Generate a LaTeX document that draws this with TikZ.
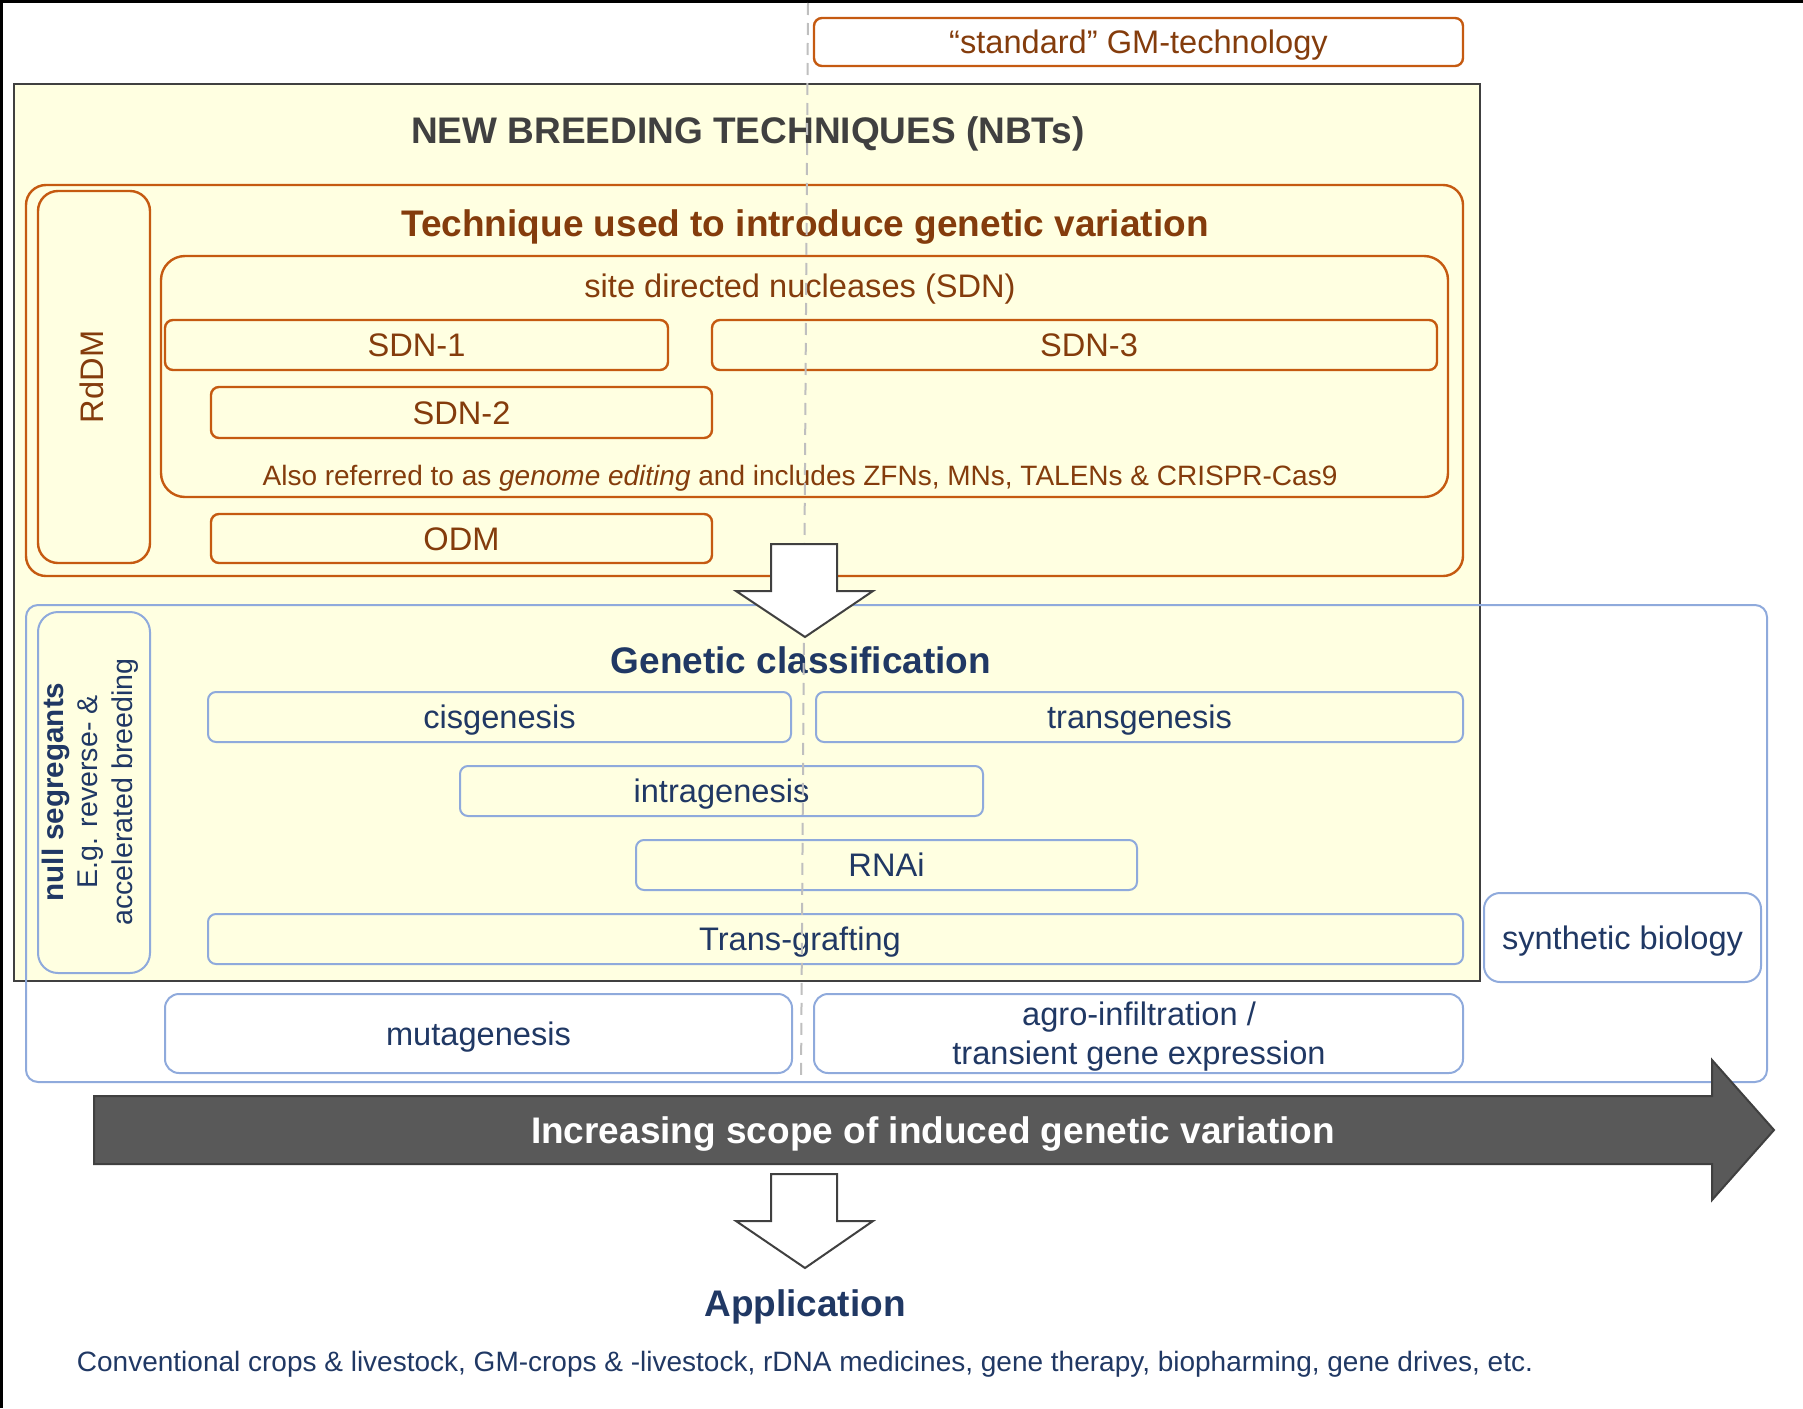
\documentclass[tikz,border=0pt]{standalone}
\usepackage{fontspec}
\setmainfont{Liberation Sans}
\definecolor{orng}{HTML}{C55A11}
\definecolor{brwn}{HTML}{843C0C}
\definecolor{blu}{HTML}{8FAADC}
\definecolor{navy}{HTML}{203864}
\definecolor{ylw}{HTML}{FFFFE1}
\definecolor{dgray}{HTML}{404040}
\definecolor{agray}{HTML}{595959}
\definecolor{lgray}{HTML}{BFBFBF}
\newcommand\fnorm{\fontsize{16.3}{19.5}\selectfont}
\newcommand\fsmall{\fontsize{14}{17}\selectfont}
\newcommand\fhead{\bfseries\fontsize{18.5}{22}\selectfont}
\tikzset{
  fixedline/.style={text height=13pt, text depth=1.3pt},
  obox/.style={draw=orng, line width=1.2pt, rounded corners=4pt, text=brwn, font=\fnorm, fixedline},
  bbox/.style={draw=blu, line width=1pt, rounded corners=4pt, text=navy, font=\fnorm, fixedline},
  headtext/.style={font=\fhead, inner sep=0pt},
  blockarrow/.style={draw=dgray, line width=1pt, line join=miter}
}
\newcommand\bx[7]{\node[#6, minimum width={(#4-#2)*0.5pt}, minimum height={(#5-#3)*0.5pt}, inner sep=0pt, outer sep=0pt] (#1) at ({(#2+#4)/2},{(#3+#5)/2}) {#7};}
\begin{document}
\begin{tikzpicture}[x=0.5pt,y=-0.5pt]
\useasboundingbox (0,0) rectangle (1803,1408);
% frame (top and left)
\draw[line width=1.5pt] (1.5,1408) -- (1.5,1.5) -- (1803,1.5);
% NBT area
\bx{nbt}{14}{84}{1480}{981}{draw=dgray, fill=ylw, line width=1pt}{}
\node[headtext, text=dgray] (title) at (748,134) {NEW BREEDING TECHNIQUES (NBTs)};
\bx{gm}{814}{18}{1463}{66}{obox}{“standard” GM-technology}
% technique
\bx{tech}{26}{185}{1463}{576}{obox, rounded corners=10pt}{}
\node[headtext, text=brwn] (techt) at (805,227) {Technique used to introduce genetic variation};
\bx{rddm}{38}{191}{150}{563}{obox, rounded corners=10pt}{}
\node[rotate=90, text=brwn, font=\fnorm] (rddmt) at (92,377) {RdDM};
\bx{sdn}{161}{256}{1448}{497}{obox, rounded corners=12pt}{}
\node[text=brwn, font=\fnorm] (sdnt) at (800,289) {site directed nucleases (SDN)};
\bx{sdn1}{165}{320}{668}{370}{obox}{SDN-1}
\bx{sdn3}{712}{320}{1437}{370}{obox}{}
\node[text=brwn, font=\fnorm, fixedline, inner sep=0pt] (sdn3t) at (1089,345) {SDN-3};
\bx{sdn2}{211}{387}{712}{438}{obox}{SDN-2}
\node[text=brwn, font=\fsmall] (also) at (800,478) {Also referred to as \emph{genome editing} and includes ZFNs, MNs, TALENs \& CRISPR-Cas9};
\bx{odm}{211}{514}{712}{563}{obox}{ODM}
% genetic classification
\bx{gen}{26}{605}{1767}{1082}{bbox, rounded corners=6pt}{}
\node[headtext, text=navy] (gent) at (801,660) {Genetic classification};
\bx{nulls}{38}{612}{150}{973}{bbox, rounded corners=10pt}{}
\node[rotate=90, text=navy, align=center, font=\fontsize{14.3}{17.2}\selectfont] (nullt) at (90,792) {{\bfseries\fontsize{14.8}{17.2}\selectfont null segregants}\\E.g. reverse- \&\\accelerated breeding};
\bx{cis}{208}{692}{791}{742}{bbox}{cisgenesis}
\bx{trans}{816}{692}{1463}{742}{bbox}{transgenesis}
\bx{intra}{460}{766}{983}{816}{bbox}{intragenesis}
\bx{rnai}{636}{840}{1137}{890}{bbox}{RNAi}
\bx{graft}{208}{914}{1463}{964}{bbox}{}
\node[text=navy, font=\fnorm, fixedline, inner sep=0pt] (graftt) at (800,939) {Trans-grafting};
\bx{synbio}{1484}{893}{1761}{982}{bbox, rounded corners=8pt}{synthetic biology}
\bx{muta}{165}{994}{792}{1073}{bbox, rounded corners=7pt}{mutagenesis}
\bx{agro}{814}{994}{1463}{1073}{bbox, rounded corners=7pt}{}
\node[text=navy, font=\fnorm, align=center] (agrot) at (1139,1037) {agro-infiltration /\\transient gene expression};
% dashed guide line
\coordinate (dtop) at (808,3);
\coordinate (dbot) at (801,1082);
\draw[lgray, line width=1pt, dash pattern=on 6pt off 4pt] (dtop) -- (dbot);
% block arrow technique -> classification
\draw[blockarrow, fill=white] (771,544) -- (837,544) -- (837,591) -- (873,591) -- (805,637) -- (736,591) -- (771,591) -- cycle;
% big arrow
\draw[blockarrow, fill=agray] (94,1096) -- (1712,1096) -- (1712,1060) -- (1774,1130) -- (1712,1200) -- (1712,1164) -- (94,1164) -- cycle;
\node[headtext, text=white] (scope) at (933,1134) {Increasing scope of induced genetic variation};
% block arrow -> application
\draw[blockarrow, fill=white] (771,1174) -- (837,1174) -- (837,1221) -- (873,1221) -- (805,1268) -- (736,1221) -- (771,1221) -- cycle;
\node[headtext, text=navy] (app) at (805,1307) {Application};
\node[text=navy, font=\fsmall] (apps) at (805,1364) {Conventional crops \& livestock, GM-crops \& -livestock, rDNA medicines, gene therapy, biopharming, gene drives, etc.};
\end{tikzpicture}
\end{document}
